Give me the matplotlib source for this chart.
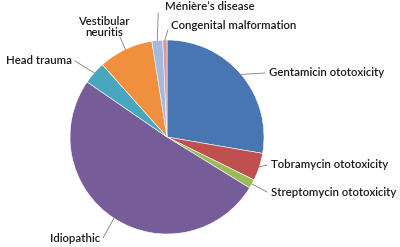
import numpy as np
import matplotlib
matplotlib.use("Agg")
import matplotlib.pyplot as plt

# 数据 (百分比, 从12点钟方向顺时针)
labels = ["Gentamicin ototoxicity", "Tobramycin ototoxicity", "Streptomycin ototoxicity",
          "Idiopathic", "Head trauma", "Vestibular\nneuritis", "Ménière’s disease",
          "Congenital malformation"]
values = [27.7, 4.6, 1.5, 50.8, 3.8, 9.1, 1.8, 0.7]
colors = ["#4776B2", "#C0504D", "#9BBB59", "#765C98", "#48A6BE", "#F0903F", "#A5B8DE", "#D9969A"]

# 标签位置 (像素, 左上为原点)
text_pos = [(269, 73), (271, 165), (271, 192), (100, 238), (72, 61), (104, 27), (165, 7), (171, 26)]
text_ha = ["left", "left", "left", "right", "right", "center", "left", "left"]

plt.rcParams['font.family'] = ['Lato', 'DejaVu Sans']

W, H = 400, 247
fig = plt.figure(figsize=(4, 2.47), dpi=100)
ax = fig.add_axes([0, 0, 1, 1])

cx, cy, r = 167, H - 137, 97
wedges, _ = ax.pie(values, colors=colors, startangle=90, counterclock=False,
                   center=(cx, cy), radius=r, frame=True,
                   wedgeprops=dict(linewidth=0.4, edgecolor="white"))
ax.set_xlim(0, W)
ax.set_ylim(0, H)
ax.set_aspect("equal")
ax.axis("off")

for w, lab, (tx, ty), ha in zip(wedges, labels, text_pos, text_ha):
    ang = np.deg2rad((w.theta1 + w.theta2) / 2)
    px, py = cx + r * np.cos(ang), cy + r * np.sin(ang)
    ty = H - ty
    # 引线终点
    if ha == "left":
        ex = tx - 4
    elif ha == "right":
        ex = tx + 3
    else:
        ex = tx + 16
    ey = ty
    if lab.startswith("Vestibular"):
        ey = ty - 10
    if lab.startswith("Ménière"):
        ex, ey = px + 1, ty - 6
    if lab.startswith("Congenital"):
        ex, ey = px + 3, ty - 4
    ax.plot([px, ex], [py, ey], color="#7f7f7f", lw=0.6)
    ax.text(tx, ty, lab, ha=ha, va="center", fontsize=8.2, fontweight="semibold",
            color="#1a1a1a", linespacing=1.1)

fig.savefig("out.png", dpi=100)
